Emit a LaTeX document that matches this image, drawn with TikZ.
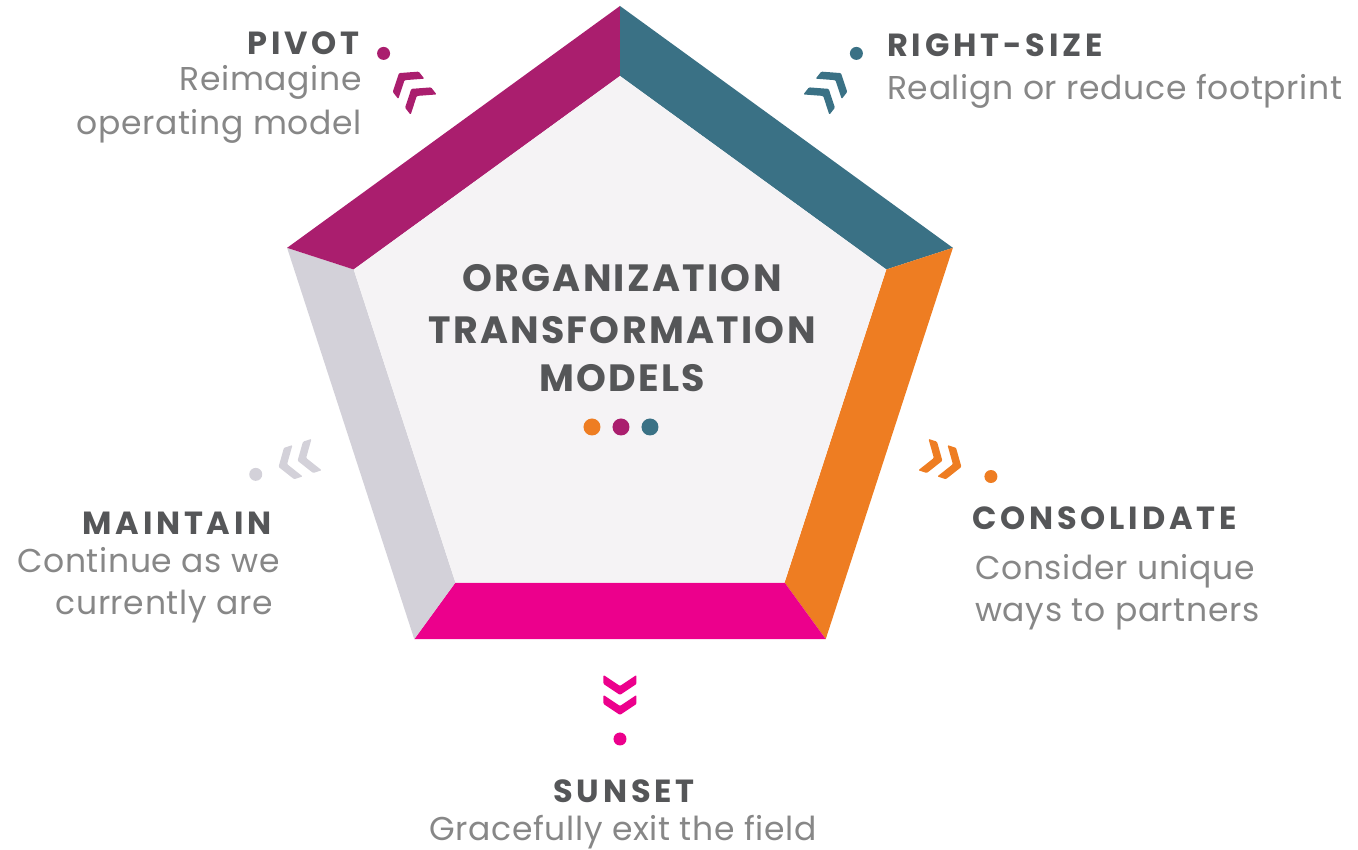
\documentclass[tikz,border=0pt]{standalone}
\usepackage{fontspec}
\setmainfont{Poppins}[LetterSpace=2]
\newfontfamily\ttlfont{Poppins}[LetterSpace=12]
\newfontfamily\ctrfont{Poppins}[LetterSpace=6]
\definecolor{piv}{HTML}{AA1E6E}
\definecolor{rsz}{HTML}{3A7185}
\definecolor{cons}{HTML}{EE7D22}
\definecolor{sun}{HTML}{EC008C}
\definecolor{mnt}{HTML}{D3D1D9}
\definecolor{core}{HTML}{F5F3F5}
\definecolor{txtdark}{HTML}{555658}
\definecolor{txtlight}{HTML}{878787}
\tikzset{ttl/.append style={font=\ttlfont\bfseries\fontsize{32}{36}\selectfont, text=txtdark, inner sep=0}}
\tikzset{ctr/.append style={font=\ctrfont\bfseries\fontsize{38}{42}\selectfont, text=txtdark, inner sep=0}}
\tikzset{dsc/.append style={font=\fontsize{33}{38}\selectfont, text=txtlight, inner sep=0}}
\tikzset{dot/.append style={circle, inner sep=0, minimum size=13}}
\tikzset{chev/.pic={
    \fill[rounded corners=1] (20,0) -- (9,16.5) -- (0,16.5) -- (11,0) -- (0,-16.5) -- (9,-16.5) -- cycle;
    \fill[rounded corners=1] (0,0) -- (-11,16.5) -- (-20,16.5) -- (-9,0) -- (-20,-16.5) -- (-11,-16.5) -- cycle;
}}

\begin{document}
\begin{tikzpicture}[x=1pt,y=1pt]
                \useasboundingbox (-620,-494) rectangle (738,356);
                % frame of the pentagon
                \fill[rsz] (90:350) -- (18:350) -- (18:280) -- (90:280) -- cycle;
                \fill[cons] (18:350) -- (-54:350) -- (-54:280) -- (18:280) -- cycle;
                \fill[sun] (-54:350) -- (-126:350) -- (-126:280) -- (-54:280) -- cycle;
                \fill[mnt] (-126:350) -- (162:350) -- (162:280) -- (-126:280) -- cycle;
                \fill[piv] (162:350) -- (90:350) -- (90:280) -- (162:280) -- cycle;
                \fill[core] (90:280) -- (18:280) -- (-54:280) -- (-126:280) -- (162:280) -- cycle;
                % middle
                \node[ctr, anchor=base] (org) at (2,64) {ORGANIZATION};
                \node[ctr, anchor=base] (trans) at (2,12) {TRANSFORMATION};
                \node[ctr, anchor=base] (mod) at (2,-36) {MODELS};
                \node[dot, minimum size=17, fill=cons] (c1) at (-28,-71) {};
                \node[dot, minimum size=17, fill=piv] (c2) at (1,-71) {};
                \node[dot, minimum size=17, fill=rsz] (c3) at (30,-71) {};
                % chevrons and dots
                \pic[piv, rotate=128] at (128:339) {chev};
                \pic[rsz, rotate=52] at (52:339) {chev};
                \pic[cons, rotate=-18] at (-18:339) {chev};
                \pic[sun, rotate=-90] at (-90:339) {chev};
                \pic[mnt, rotate=198] at (198:339) {chev};
                \node[dot, fill=piv] (pivdot) at (128:384) {};
                \node[dot, fill=rsz] (rszdot) at (52:384) {};
                \node[dot, fill=cons] (consdot) at (-18:390) {};
                \node[dot, fill=sun] (sundot) at (-90:383) {};
                \node[dot, fill=mnt] (mntdot) at (198:383) {};
                % labels
                \node[ttl, anchor=base east] (pivot) at (-260,301) {PIVOT};
                \node[dsc, anchor=base east] (piv1) at (-258,265) {Reimagine};
                \node[dsc, anchor=base east] (piv2) at (-258,221) {operating model};
                \node[ttl, anchor=base west] (rightsize) at (267,299) {RIGHT-SIZE};
                \node[dsc, anchor=base west] (rsz1) at (267,256) {Realign or reduce footprint};
                \node[ttl, anchor=base west] (consolidate) at (352,-174) {CONSOLIDATE};
                \node[dsc, anchor=base west] (cons1) at (355,-224) {Consider unique};
                \node[dsc, anchor=base west] (cons2) at (355,-266) {ways to partners};
                \node[ttl, anchor=base] (sunset) at (4,-447) {SUNSET};
                \node[dsc, anchor=base] (sun1) at (3,-485) {Gracefully exit the field};
                \node[ttl, anchor=base east] (maintain) at (-348,-179) {MAINTAIN};
                \node[dsc, anchor=base east] (mnt1) at (-340,-217) {Continue as we};
                \node[dsc, anchor=base east] (mnt2) at (-347,-259) {currently are};
            \end{tikzpicture}
\end{document}
